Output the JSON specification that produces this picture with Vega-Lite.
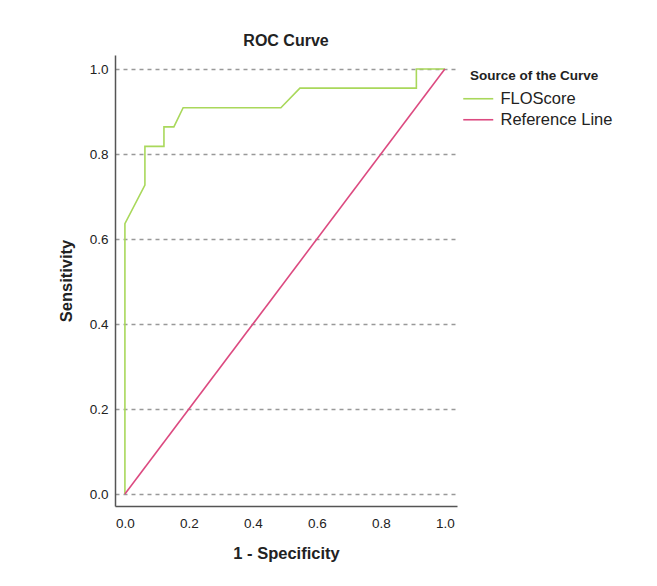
{
  "$schema": "https://vega.github.io/schema/vega-lite/v6.json",
  "autosize": {"type": "none"},
  "width": 342,
  "height": 451,
  "padding": {"left": 115, "top": 55, "right": 200, "bottom": 80},
  "background": "white",
  "title": {"text": "ROC Curve", "font": "Liberation Sans", "fontSize": 16, "fontWeight": "bold", "color": "#222", "anchor": "middle", "offset": 6},
  "data": {"values": [
    {"series": "FLOScore", "o": 0, "x": 0, "y": 0},
    {"series": "FLOScore", "o": 1, "x": 0, "y": 0.636},
    {"series": "FLOScore", "o": 2, "x": 0.0625, "y": 0.727},
    {"series": "FLOScore", "o": 3, "x": 0.0625, "y": 0.818},
    {"series": "FLOScore", "o": 4, "x": 0.122, "y": 0.818},
    {"series": "FLOScore", "o": 5, "x": 0.122, "y": 0.864},
    {"series": "FLOScore", "o": 6, "x": 0.153, "y": 0.864},
    {"series": "FLOScore", "o": 7, "x": 0.182, "y": 0.909},
    {"series": "FLOScore", "o": 8, "x": 0.4875, "y": 0.909},
    {"series": "FLOScore", "o": 9, "x": 0.547, "y": 0.955},
    {"series": "FLOScore", "o": 10, "x": 0.911, "y": 0.955},
    {"series": "FLOScore", "o": 11, "x": 0.911, "y": 1},
    {"series": "FLOScore", "o": 12, "x": 1, "y": 1},
    {"series": "Reference Line", "o": 0, "x": 0, "y": 0},
    {"series": "Reference Line", "o": 1, "x": 1, "y": 1}
  ]},
  "mark": {"type": "line", "strokeWidth": 1.6, "clip": false},
  "encoding": {
    "x": {"field": "x", "type": "quantitative", "scale": {"domain": [-0.031, 1.038], "nice": false, "zero": false},
      "axis": {"title": "1 - Specificity", "values": [0, 0.2, 0.4, 0.6, 0.8, 1.0], "format": ".1f", "grid": false, "ticks": false,
        "domainColor": "#555", "domainWidth": 1.5, "labelFont": "Liberation Sans", "labelFontSize": 13.5, "labelColor": "#222", "labelPadding": 10,
        "titleFont": "Liberation Sans", "titleFontSize": 16.5, "titleFontWeight": "bold", "titleColor": "#222", "titlePadding": 16}},
    "y": {"field": "y", "type": "quantitative", "scale": {"domain": [-0.028, 1.033], "nice": false, "zero": false},
      "axis": {"title": "Sensitivity", "values": [0, 0.2, 0.4, 0.6, 0.8, 1.0], "format": ".1f", "grid": true, "gridDash": [4, 4], "gridColor": "#999", "gridWidth": 1.3, "ticks": false,
        "domainColor": "#555", "domainWidth": 1.5, "labelFont": "Liberation Sans", "labelFontSize": 13.5, "labelColor": "#222", "labelPadding": 7,
        "titleFont": "Liberation Sans", "titleFontSize": 16.5, "titleFontWeight": "bold", "titleColor": "#222", "titlePadding": 15}},
    "color": {"field": "series", "type": "nominal",
      "scale": {"domain": ["FLOScore", "Reference Line"], "range": ["#a9d85b", "#dc4a80"]},
      "legend": {"title": "Source of the Curve", "orient": "none", "legendX": 355, "legendY": 14,
        "titleFont": "Liberation Sans", "titleFontSize": 13.5, "titleFontWeight": "bold", "titleColor": "#222", "titlePadding": 8,
        "labelFont": "Liberation Sans", "labelFontSize": 16.5, "labelColor": "#222", "labelOffset": 14,
        "symbolType": "M-3,0H3", "symbolSize": 100, "symbolStrokeWidth": 1.6, "symbolFillColor": "transparent", "rowPadding": 4}},
    "order": {"field": "o", "type": "quantitative"}
  },
  "config": {"view": {"stroke": null}}
}
